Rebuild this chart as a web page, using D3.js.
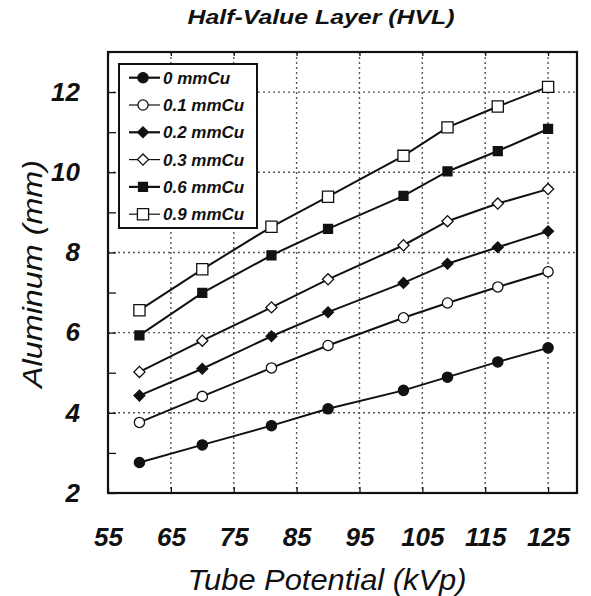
<!DOCTYPE html>
<html>
<head>
<meta charset="utf-8">
<script src="https://cdn.jsdelivr.net/npm/d3@7"></script>
<style>
  body { margin: 0; background: #fff; }
  text { font-family: "Liberation Sans", Arial, sans-serif; font-style: italic; fill: #111; }
</style>
</head>
<body>
<svg id="chart" width="591" height="596"></svg>
<script>
// tube potential stations (kVp)
var kvp = [60, 70, 81, 90, 102, 109, 117, 125];

// half-value layer in mm aluminum, one array per copper filter
var hvl0 = [2.76, 3.2, 3.68, 4.1, 4.56, 4.89, 5.27, 5.62];
var hvl01 = [3.76, 4.41, 5.12, 5.68, 6.37, 6.74, 7.14, 7.52];
var hvl02 = [4.43, 5.1, 5.91, 6.51, 7.24, 7.72, 8.13, 8.53];
var hvl03 = [5.02, 5.8, 6.63, 7.33, 8.18, 8.78, 9.22, 9.58];
var hvl06 = [5.93, 6.99, 7.93, 8.59, 9.41, 10.02, 10.53, 11.08];
var hvl09 = [6.56, 7.58, 8.64, 9.39, 10.41, 11.12, 11.64, 12.13];

var seriesNames = ["0 mmCu", "0.1 mmCu", "0.2 mmCu", "0.3 mmCu", "0.6 mmCu", "0.9 mmCu"];
var seriesValues = [hvl0, hvl01, hvl02, hvl03, hvl06, hvl09];

var xTicks = [55, 65, 75, 85, 95, 105, 115, 125];
var xGrid = [65, 75, 85, 95, 105, 115, 125];
var yTicks = [2, 3, 4, 5, 6, 7, 8, 9, 10, 11, 12];
var yGrid = [4, 6, 8, 10, 12];

var blackColor = "#111";
var whiteColor = "#fff";
var gridColor = "#555";

// marker shape and fill for each series
var markerShapes = ["circle", "circle", "diamond", "diamond", "square", "square"];
var markerFilled = [true, false, true, false, true, false];

var svg = d3.select("#chart");
var plotLeft = 108, plotTop = 52, plotRight = 577, plotBottom = 493;

var x = d3.scaleLinear().domain([55, 129.6]).range([plotLeft, plotRight]);
var y = d3.scaleLinear().domain([2, 13]).range([plotBottom, plotTop]);

function markerPath(i) {
  var shape = markerShapes[i];
  if (shape === "circle") {
    return d3.symbol().type(d3.symbolCircle).size(82)();
  }
  if (shape === "diamond") {
    return d3.symbol().type(d3.symbolSquare).size(markerFilled[i] ? 58 : 62)();
  }
  return d3.symbol().type(d3.symbolSquare).size(markerFilled[i] ? 80 : 125)();
}

function drawMarker(g, i, px, py) {
  g.append("path")
    .attr("d", markerPath(i))
    .attr("transform", "translate(" + px + "," + py + ")" + (markerShapes[i] === "diamond" ? " rotate(45)" : ""))
    .style("fill", markerFilled[i] ? blackColor : whiteColor)
    .style("stroke", blackColor)
    .style("stroke-width", 1.3);
}

// grid lines
svg.append("g")
  .selectAll("line")
  .data(xGrid)
  .enter()
  .append("line")
  .attr("x1", function (d) { return x(d); })
  .attr("x2", function (d) { return x(d); })
  .attr("y1", plotTop)
  .attr("y2", plotBottom)
  .style("stroke", gridColor)
  .style("stroke-width", 1.4)
  .style("stroke-dasharray", "2,3");

svg.append("g")
  .selectAll("line")
  .data(yGrid)
  .enter()
  .append("line")
  .attr("x1", plotLeft)
  .attr("x2", plotRight)
  .attr("y1", function (d) { return y(d); })
  .attr("y2", function (d) { return y(d); })
  .style("stroke", gridColor)
  .style("stroke-width", 1.4)
  .style("stroke-dasharray", "2,3");

// axes
var leftAxis = svg.append("g")
  .attr("transform", "translate(" + plotLeft + ",0)")
  .call(d3.axisLeft(y).tickValues(yTicks).tickSize(-8).tickPadding(28)
    .tickFormat(function (d) { return d % 2 === 0 ? d : ""; }));

var bottomAxis = svg.append("g")
  .attr("transform", "translate(0," + plotBottom + ")")
  .call(d3.axisBottom(x).tickValues(xTicks).tickSize(-6).tickPadding(35));

var topAxis = svg.append("g")
  .attr("transform", "translate(0," + plotTop + ")")
  .call(d3.axisTop(x).tickValues(xTicks).tickSize(-4).tickFormat(""));

[leftAxis, bottomAxis, topAxis].forEach(function (a) {
  a.select(".domain").remove();
  a.selectAll("line").style("stroke", blackColor).style("stroke-width", 1.3);
  a.selectAll("text")
    .style("font-size", "26px")
    .style("font-weight", "bold")
    .style("font-family", '"Liberation Sans", Arial, sans-serif')
    .style("font-style", "italic")
    .style("fill", blackColor);
});

// frame
svg.append("rect")
  .attr("x", plotLeft)
  .attr("y", plotTop)
  .attr("width", plotRight - plotLeft)
  .attr("height", plotBottom - plotTop)
  .style("fill", "none")
  .style("stroke", blackColor)
  .style("stroke-width", 2.2);

// series lines and markers
var line = d3.line()
  .x(function (d) { return x(d[0]); })
  .y(function (d) { return y(d[1]); });

seriesValues.forEach(function (vals, i) {
  var pts = kvp.map(function (k, j) { return [k, vals[j]]; });
  svg.append("path")
    .attr("d", line(pts))
    .style("fill", "none")
    .style("stroke", blackColor)
    .style("stroke-width", 2);
  var g = svg.append("g");
  pts.forEach(function (p) {
    drawMarker(g, i, x(p[0]), y(p[1]));
  });
});

// legend
var legendX = 119, legendY = 64, legendW = 138, legendH = 164, rowGap = 27.3;
svg.append("rect")
  .attr("x", legendX)
  .attr("y", legendY)
  .attr("width", legendW)
  .attr("height", legendH)
  .style("fill", whiteColor)
  .style("stroke", blackColor)
  .style("stroke-width", 2);

seriesNames.forEach(function (name, i) {
  var ly = legendY + 13.7 + i * rowGap;
  var g = svg.append("g");
  g.append("line")
    .attr("x1", legendX + 10)
    .attr("x2", legendX + 41)
    .attr("y1", ly)
    .attr("y2", ly)
    .style("stroke", blackColor)
    .style("stroke-width", markerFilled[i] ? 2.2 : 1.2);
  drawMarker(g, i, legendX + 24, ly);
  g.append("text")
    .attr("x", legendX + 44)
    .attr("y", ly)
    .attr("dy", "0.36em")
    .style("font-size", "17px")
    .style("font-weight", "bold")
    .text(name);
});

// titles
svg.append("text")
  .attr("x", 321)
  .attr("y", 24)
  .attr("text-anchor", "middle")
  .attr("textLength", 267)
  .attr("lengthAdjust", "spacingAndGlyphs")
  .style("font-size", "21px")
  .style("font-weight", "bold")
  .text("Half-Value Layer (HVL)");

svg.append("text")
  .attr("x", 327)
  .attr("y", 590)
  .attr("text-anchor", "middle")
  .attr("textLength", 279)
  .attr("lengthAdjust", "spacingAndGlyphs")
  .style("font-size", "29px")
  .text("Tube Potential (kVp)");

svg.append("text")
  .attr("transform", "translate(42,274) rotate(-90)")
  .attr("text-anchor", "middle")
  .attr("textLength", 228)
  .attr("lengthAdjust", "spacingAndGlyphs")
  .style("font-size", "27px")
  .text("Aluminum (mm)");
</script>
</body>
</html>
